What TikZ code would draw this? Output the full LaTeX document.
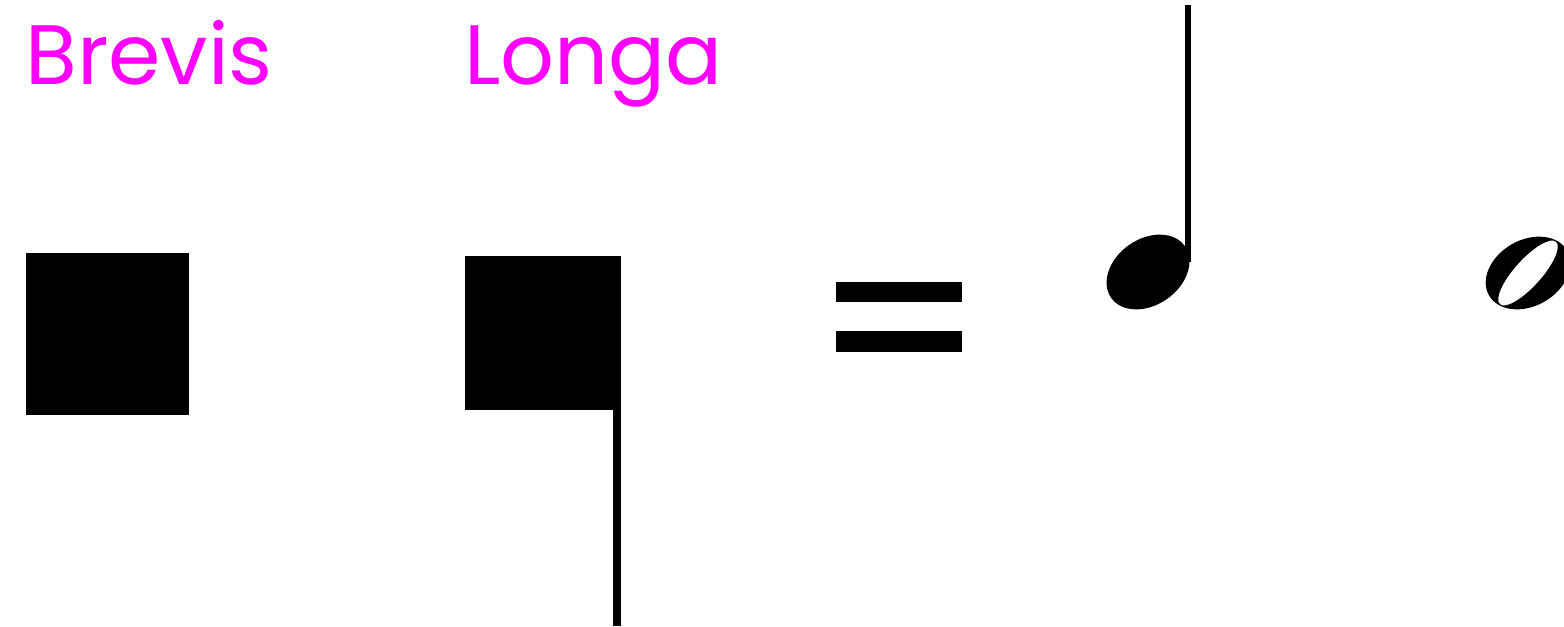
\documentclass[tikz,border=0pt]{standalone}
\usepackage{fontspec}
\setmainfont{Poppins}
\usepackage{tikz}
\usetikzlibrary{positioning}
\definecolor{labelpink}{RGB}{255,0,255}

\begin{document}
\begin{tikzpicture}[
  x=0.02cm, y=-0.02cm,
  label/.style={font=\fontsize{48}{54}\selectfont, text=labelpink, inner sep=0pt, anchor=base west},
  ink/.style={fill=black, draw=none}
]
\useasboundingbox (0,0) rectangle (1564,626);

\node[label] (brevis) at (25,84)  {Brevis};
\node[label] (longa)  at (464,84) {Longa};

% brevis
\fill[ink] (26,253) rectangle (189,415);

% longa with its tail
\fill[ink] (465,256) rectangle (620,410);
\fill[ink] (613,256) rectangle (621,626);

% equals sign
\fill[ink] (836,282) rectangle (962,302);
\fill[ink] (836,331) rectangle (962,352);

% quarter note
\fill[ink, rotate around={35:(1148,272)}] (1148,272) ellipse [x radius=0.9cm, y radius=0.66cm];
\fill[ink] (1185,5) rectangle (1191,262);

% half note
\fill[ink, even odd rule]
  [rotate around={30:(1528,273)}] (1528,273) ellipse [x radius=0.9cm, y radius=0.66cm]
  [rotate around={18:(1528,273)}] (1528,273) ellipse [x radius=0.84cm, y radius=0.27cm];
\end{tikzpicture}
\end{document}
